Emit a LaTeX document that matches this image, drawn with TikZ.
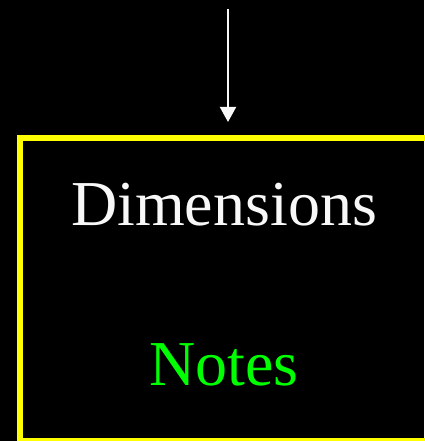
\documentclass[tikz,border=0pt]{standalone}
\usepackage{fontspec}
\setmainfont{Liberation Serif}
\usetikzlibrary{arrows.meta,positioning}
\definecolor{ink}{HTML}{000000}
\definecolor{frame}{HTML}{FFFF00}
\definecolor{label}{HTML}{F8F8F8}
\definecolor{note}{HTML}{00FF00}
\tikzset{
  panel/.style={draw=frame,line width=6pt,inner sep=0pt,outer sep=0pt,minimum width=412pt,minimum height=303pt},
  title/.style={text=label,font=\fontsize{64}{70}\selectfont,anchor=base,inner sep=0pt},
  flow/.style={-{Triangle[length=15pt,width=16pt]},line width=2pt,draw=label}
}
\begin{document}
\begin{tikzpicture}[x=1pt,y=1pt]
    \fill[ink] (0,0) rectangle (424,-441);
    \useasboundingbox (0,0) rectangle (424,-441);

    \node[panel,anchor=north west] (box) at (20,-138) {};
    \node[title] (dims) at (224,-225) {Dimensions};
    \node[title,text=note] (notes) at (224,-385) {Notes};

    \coordinate (src) at (228,-9);
    \coordinate (tip) at (228,-122);
    \draw[flow] (src) -- (tip);
  \end{tikzpicture}
\end{document}
